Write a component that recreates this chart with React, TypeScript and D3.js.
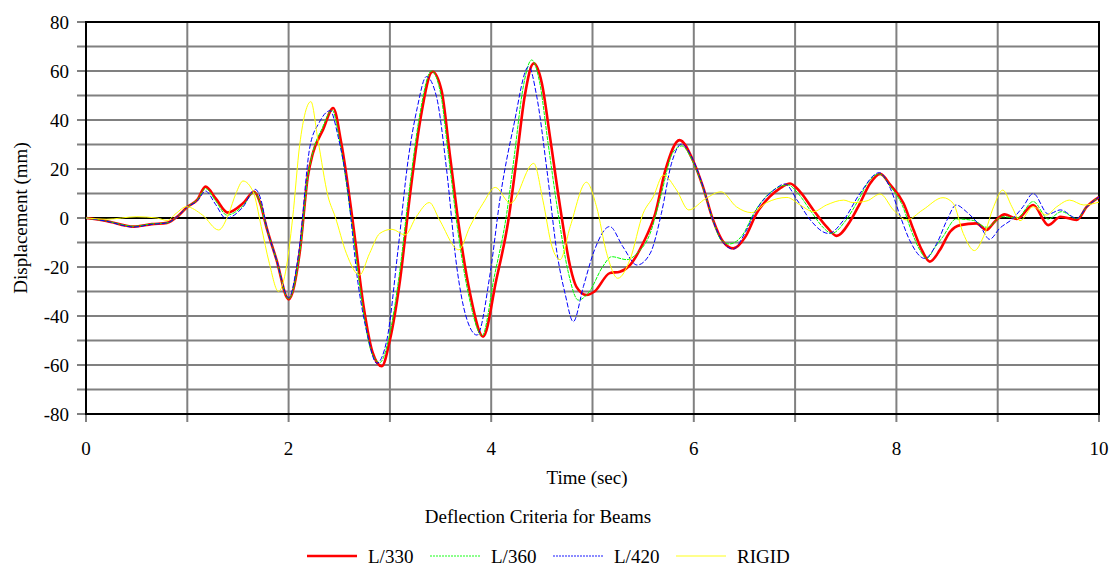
import React from "react";
import * as d3 from "d3";

const tL330 = [0, 0.2, 0.47, 0.65, 0.8, 0.9, 1.0, 1.1, 1.18, 1.28, 1.40, 1.55, 1.66, 1.72, 1.78, 1.88, 2.0, 2.11, 2.19, 2.24, 2.34, 2.44, 2.52, 2.64, 2.74, 2.83, 2.92, 3.0, 3.10, 3.20, 3.30, 3.42, 3.51, 3.59, 3.69, 3.79, 3.92, 4.05, 4.17, 4.25, 4.33, 4.42, 4.50, 4.58, 4.68, 4.78, 4.84, 4.94, 5.02, 5.17, 5.27, 5.37, 5.50, 5.62, 5.72, 5.86, 5.99, 6.09, 6.19, 6.29, 6.39, 6.51, 6.62, 6.75, 6.85, 6.95, 7.05, 7.18, 7.31, 7.41, 7.54, 7.64, 7.74, 7.84, 7.94, 8.07, 8.17, 8.25, 8.33, 8.43, 8.53, 8.63, 8.79, 8.89, 8.97, 9.07, 9.19, 9.35, 9.50, 9.62, 9.78, 9.88, 10.0];
const vL330 = [0, -1.2, -3.5, -2.5, -2, 0.5, 4.5, 7.5, 12.8, 8, 2.2, 6, 10.7, 6, -3.5, -17, -33.2, -14, 17, 26.5, 36, 44.9, 30.6, -3.5, -36, -55, -60.5, -49.8, -25.3, 10, 40, 59.7, 52, 26.5, -6, -30.6, -48.4, -25.3, -0.8, 23.7, 49.5, 63.1, 55, 33.2, 4.6, -19.9, -28, -31.4, -30, -22.5, -21.9, -19.2, -10.2, 1.9, 19.6, 31.8, 23.7, 12.8, -0.8, -9.7, -12.4, -7.6, 1.9, 8.7, 12.1, 14.1, 10.7, 3.3, -3.5, -7.3, -1.5, 6, 14.1, 18, 13.5, 6, -4.9, -13, -17.8, -13, -5.6, -2.9, -2.2, -4.9, -1.5, 1.5, -0.4, 5.3, -2.9, 0.5, -0.8, 4.6, 8.5];

const tL360 = [0, 0.2, 0.47, 0.65, 0.8, 0.9, 1.0, 1.1, 1.18, 1.28, 1.39, 1.55, 1.66, 1.72, 1.78, 1.88, 2.0, 2.11, 2.19, 2.24, 2.33, 2.43, 2.51, 2.63, 2.73, 2.82, 2.90, 2.99, 3.09, 3.19, 3.29, 3.41, 3.50, 3.58, 3.68, 3.78, 3.91, 4.03, 4.15, 4.23, 4.31, 4.40, 4.48, 4.56, 4.66, 4.76, 4.86, 4.97, 5.10, 5.19, 5.34, 5.44, 5.57, 5.68, 5.79, 5.88, 5.99, 6.09, 6.19, 6.27, 6.35, 6.48, 6.60, 6.73, 6.83, 6.93, 7.03, 7.16, 7.28, 7.36, 7.50, 7.62, 7.72, 7.83, 7.94, 8.06, 8.15, 8.23, 8.30, 8.38, 8.46, 8.59, 8.76, 8.89, 9.05, 9.19, 9.35, 9.50, 9.63, 9.78, 9.88, 10.0];
const vL360 = [0, -1.2, -3.4, -2.4, -2, 0.5, 4.5, 7.5, 12, 7, 1.2, 5, 10.5, 6, -3.5, -17, -33, -14, 17, 27, 36.5, 44, 30, -4, -36, -55, -59, -49, -24, 11, 41, 60, 51, 25, -8, -32, -48, -24, 1, 26, 52, 64.5, 55, 31, 2, -22, -33.5, -30, -19.9, -15.8, -17, -14.4, -6.2, 10, 26.5, 29.4, 23, 12.5, -1, -9, -10.6, -7, 2.5, 9.5, 12.5, 13.5, 10, 2.5, -4, -6.3, -1, 7, 14.5, 18, 13, 5, -5.5, -13, -16.5, -12, -7.6, -0.4, -1, -3.8, 0.5, 0, 6.7, -0.4, 2.6, -0.2, 4.6, 8.5];

const tL420 = [0, 0.2, 0.47, 0.65, 0.8, 0.9, 1.0, 1.1, 1.18, 1.28, 1.38, 1.55, 1.67, 1.73, 1.78, 1.88, 2.0, 2.1, 2.21, 2.30, 2.41, 2.49, 2.57, 2.69, 2.78, 2.87, 2.97, 3.08, 3.18, 3.27, 3.36, 3.46, 3.56, 3.66, 3.75, 3.86, 3.99, 4.09, 4.22, 4.37, 4.45, 4.55, 4.65, 4.73, 4.81, 4.91, 5.02, 5.17, 5.30, 5.44, 5.57, 5.68, 5.78, 5.88, 5.99, 6.09, 6.19, 6.29, 6.39, 6.50, 6.62, 6.79, 6.90, 7.02, 7.15, 7.33, 7.48, 7.64, 7.83, 7.94, 8.04, 8.13, 8.28, 8.40, 8.50, 8.59, 8.69, 8.83, 8.92, 9.02, 9.15, 9.25, 9.35, 9.50, 9.62, 9.78, 9.88, 10.0];
const vL420 = [0, -1.3, -3.7, -2.6, -2, 0.5, 4.5, 7, 11, 5.5, -0.1, 4.5, 11.7, 7, -3, -17, -32.5, -14, 29, 38.8, 43.8, 33, 15.5, -28, -48, -59.3, -49.8, -13, 23.7, 45, 57.7, 49.5, 19.6, -19.9, -40, -47.8, -22.5, 8.7, 37.3, 61.8, 49.5, 19.6, -14.4, -31, -42.3, -28, -13, -3.5, -11.7, -19.2, -14.4, 1.9, 22.3, 30.2, 24, 13, -1, -10, -12.7, -6.5, 3.5, 11.4, 13.9, 7.3, -0.8, -6.3, -0.8, 10, 18.5, 12.1, 0.5, -9, -16.5, -10.3, -0.8, 5.3, 2.6, -3.5, -8.7, -4.2, -0.2, 4.6, 10, 1.6, 3.3, -0.1, 4.6, 8.5];

const tRigid = [0, 0.2, 0.5, 0.7, 0.8, 0.89, 0.99, 1.15, 1.31, 1.41, 1.48, 1.55, 1.65, 1.73, 1.81, 1.90, 1.97, 2.04, 2.11, 2.22, 2.29, 2.39, 2.46, 2.57, 2.70, 2.80, 2.90, 3.02, 3.15, 3.26, 3.39, 3.49, 3.68, 3.79, 3.92, 4.04, 4.19, 4.42, 4.51, 4.60, 4.68, 4.78, 4.94, 5.04, 5.14, 5.25, 5.37, 5.50, 5.60, 5.70, 5.83, 5.95, 6.12, 6.27, 6.42, 6.57, 6.72, 6.92, 7.05, 7.18, 7.31, 7.48, 7.57, 7.71, 7.84, 7.97, 8.10, 8.26, 8.46, 8.56, 8.66, 8.77, 8.86, 8.96, 9.05, 9.14, 9.22, 9.35, 9.48, 9.58, 9.71, 9.85, 10.0];
const vRigid = [0, -0.5, 0.5, 0, -1, 1.9, 4.6, 1.2, -4.9, 1.9, 10, 15.1, 10.7, -3.5, -18.5, -30, -22, 0, 30, 47.5, 31.8, 8.7, 0.5, -14.4, -23.3, -14.4, -6.3, -4.6, -6.9, 0.5, 6.3, -0.8, -13, -3.5, 6, 12.5, 6, 22.3, 7.3, -11.7, -17, -3.5, 14.6, 4.6, -14.4, -24.6, -17, 1.9, 8.7, 17.5, 11.4, 3.3, 8, 10.7, 4.6, 2.2, 6.3, 8.4, 5.3, 2.6, 5.3, 7.3, 6.3, 7, 9.8, 3.3, -0.8, 3.3, 8.3, 6, -6.3, -13.3, -7.6, 4.6, 11.4, 4.6, -1.1, 4.6, 1.2, 4.5, 7.3, 5.3, 6.5];

const seriesNames = ["L/330", "L/360", "L/420", "RIGID"];
const yTicks = [80, 60, 40, 20, 0, -20, -40, -60, -80];
const xTicks = [0, 2, 4, 6, 8, 10];

const seriesStyle = [
  { color: "#ff0000", width: 2.6, dash: "" },
  { color: "#00ff00", width: 1, dash: "4,1" },
  { color: "#0000ff", width: 1, dash: "5,2" },
  { color: "#ffff00", width: 1, dash: "" },
];

const txt = { fontFamily: "Liberation Serif", fontSize: "19px", fill: "#000" };

export default function App() {
  const W = 1109, H = 567;
  const x = d3.scaleLinear().domain([0, 10]).range([86, 1099]);
  const y = d3.scaleLinear().domain([-80, 80]).range([414, 22]);
  const data = [
    tL330.map((t, i) => [t, vL330[i]]),
    tL360.map((t, i) => [t, vL360[i]]),
    tL420.map((t, i) => [t, vL420[i]]),
    tRigid.map((t, i) => [t, vRigid[i]]),
  ];
  const line = d3
    .line<number[]>()
    .x((d) => x(d[0]))
    .y((d) => y(d[1]))
    .curve(d3.curveMonotoneX);
  const hGrid = d3.range(-70, 80, 10).filter((v) => v !== 0);
  const vGrid = d3.range(1, 10, 1);
  const legendX = [307, 430, 553, 676];

  return (
    <svg
      width={W}
      height={H}
      style={{ position: "absolute", left: 0, top: 0, background: "#fff" }}
    >
      <rect x={0} y={0} width={W} height={H} fill="#fff" />
      {hGrid.map((v) => (
        <line key={"h" + v} x1={77} x2={1099} y1={y(v)} y2={y(v)} stroke="#808080" strokeWidth={2} />
      ))}
      {[80, 0, -80].map((v) => (
        <line key={"ht" + v} x1={77} x2={86} y1={y(v)} y2={y(v)} stroke="#808080" strokeWidth={2} />
      ))}
      {vGrid.map((t) => (
        <line key={"v" + t} x1={x(t)} x2={x(t)} y1={22} y2={422} stroke="#808080" strokeWidth={2} />
      ))}
      {[0, 10].map((t) => (
        <line key={"vt" + t} x1={x(t)} x2={x(t)} y1={414} y2={422} stroke="#808080" strokeWidth={2} />
      ))}
      <line x1={86} x2={1099} y1={y(0)} y2={y(0)} stroke="#000" strokeWidth={2} />
      <rect x={86} y={22} width={1013} height={392} fill="none" stroke="#000" strokeWidth={2} />
      <defs>
        <clipPath id="plotclip">
          <rect x={86} y={22} width={1013} height={392} />
        </clipPath>
      </defs>
      <g clipPath="url(#plotclip)">
        {data.map((d, i) => (
          <path
            key={seriesNames[i]}
            d={line(d) || ""}
            fill="none"
            stroke={seriesStyle[i].color}
            strokeWidth={seriesStyle[i].width}
            strokeDasharray={seriesStyle[i].dash || undefined}
            strokeLinejoin="round"
          />
        ))}
      </g>
      {yTicks.map((v) => (
        <text key={"yl" + v} x={69} y={y(v)} dy="0.35em" textAnchor="end" style={txt}>
          {v}
        </text>
      ))}
      {xTicks.map((t) => (
        <text key={"xl" + t} x={x(t)} y={448} dy="0.35em" textAnchor="middle" style={txt}>
          {t}
        </text>
      ))}
      <text x={587} y={477} dy="0.35em" textAnchor="middle" style={txt}>
        Time (sec)
      </text>
      <text
        transform={`translate(20,${y(0)}) rotate(-90)`}
        dy="0.35em"
        textAnchor="middle"
        style={txt}
      >
        Displacement (mm)
      </text>
      <text x={538} y={516} dy="0.35em" textAnchor="middle" style={txt}>
        Deflection Criteria for Beams
      </text>
      {seriesNames.map((n, i) => (
        <g key={"lg" + n}>
          <line
            x1={legendX[i]}
            x2={legendX[i] + 50}
            y1={556}
            y2={556}
            stroke={seriesStyle[i].color}
            strokeWidth={seriesStyle[i].width === 1 ? 1.5 : 2.6}
            strokeDasharray={seriesStyle[i].dash ? "2,1" : undefined}
            opacity={i === 0 ? 1 : 0.6}
          />
          <text x={legendX[i] + 61} y={556} dy="0.35em" style={txt}>
            {n}
          </text>
        </g>
      ))}
    </svg>
  );
}
